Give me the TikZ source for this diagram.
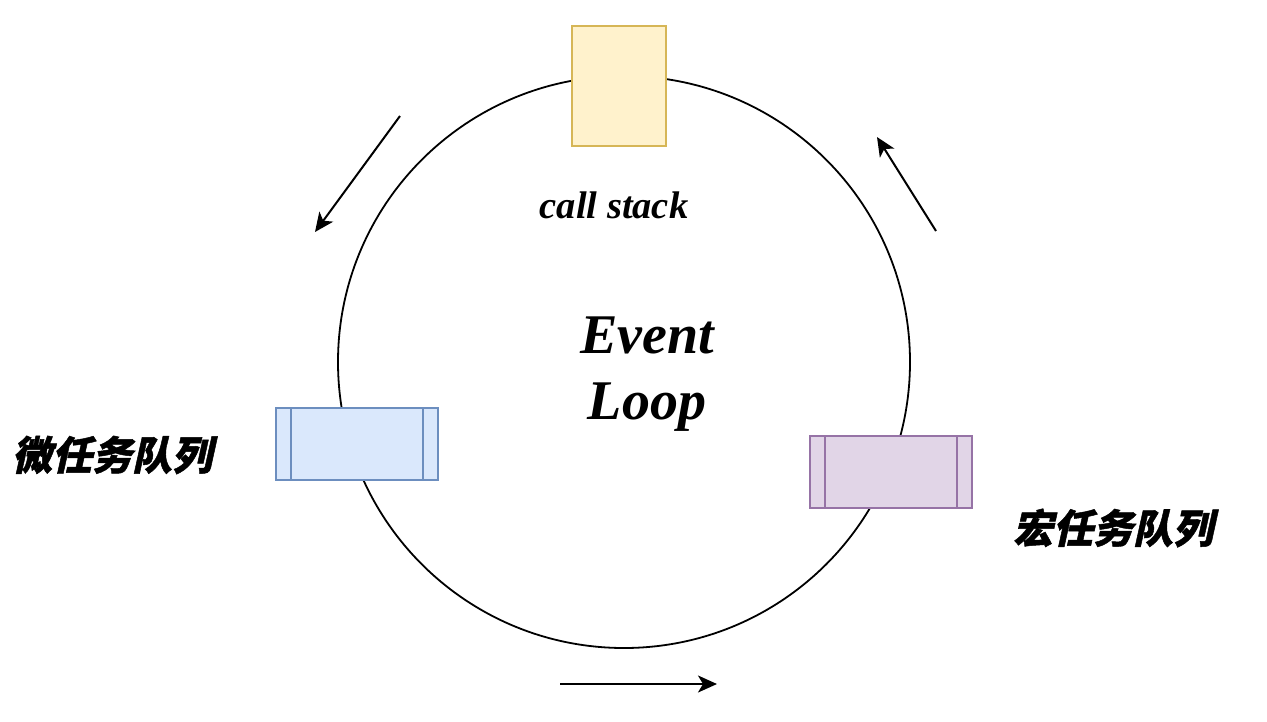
\documentclass[tikz,border=0pt]{standalone}
\usepackage{fontspec}
\setmainfont{Liberation Serif}
\newfontfamily\cjk[FakeSlant=0.22,FakeBold=1.2]{Noto Sans CJK SC}
\usetikzlibrary{arrows.meta}
\definecolor{ylwfill}{HTML}{FFF2CC}\definecolor{ylwdraw}{HTML}{D6B656}
\definecolor{bluefill}{HTML}{DAE8FC}\definecolor{bluedraw}{HTML}{6C8EBF}
\definecolor{purfill}{HTML}{E1D5E7}\definecolor{purdraw}{HTML}{9673A6}
\begin{document}
\begin{tikzpicture}[x=1pt,y=-1pt,
  flow/.style={line width=2pt,-{Stealth[length=19pt,width=17pt,inset=5pt]}},
  lbl/.style={inner sep=0pt,font=\bfseries\itshape}]
\useasboundingbox (0,0) rectangle (1267,721);
\node[circle,draw,line width=1.8pt,minimum size=572pt,inner sep=0pt] (loop) at (624,362) {};
% call stack box
\node[draw=ylwdraw,fill=ylwfill,line width=2pt,minimum width=94pt,minimum height=120pt,inner sep=0pt] (stack) at (619,86) {};
% micro task queue box
\node[draw=bluedraw,fill=bluefill,line width=2pt,minimum width=162pt,minimum height=72pt,inner sep=0pt] (micro) at (357,444) {};
\draw[bluedraw,line width=2pt] ([xshift=16pt]micro.north west) -- ([xshift=16pt]micro.south west)
  ([xshift=-16pt]micro.north east) -- ([xshift=-16pt]micro.south east);
% macro task queue box
\node[draw=purdraw,fill=purfill,line width=2pt,minimum width=162pt,minimum height=72pt,inner sep=0pt] (macro) at (891,472) {};
\draw[purdraw,line width=2pt] ([xshift=16pt]macro.north west) -- ([xshift=16pt]macro.south west)
  ([xshift=-16pt]macro.north east) -- ([xshift=-16pt]macro.south east);
% labels
\node[lbl,font=\fontsize{38.5}{40}\selectfont\bfseries\itshape] (cs) at (614,205) {call stack};
\node[lbl,align=center,font=\fontsize{56}{66}\selectfont\bfseries\itshape] (ev) at (647,374) {Event\\Loop};
\node[lbl,font=\fontsize{40}{42}\selectfont\cjk\bfseries] (mi) at (112,455) {微任务队列};
\node[lbl,font=\fontsize{40}{42}\selectfont\cjk\bfseries] (ma) at (1113,528) {宏任务队列};
% arrows
\coordinate (a1s) at (400,116); \coordinate (a1e) at (315,232);
\coordinate (a2s) at (936,231); \coordinate (a2e) at (877,137);
\coordinate (a3s) at (560,684); \coordinate (a3e) at (717,684);
\draw[flow] (a1s) -- (a1e);
\draw[flow] (a2s) -- (a2e);
\draw[flow] (a3s) -- (a3e);
\end{tikzpicture}
\end{document}
